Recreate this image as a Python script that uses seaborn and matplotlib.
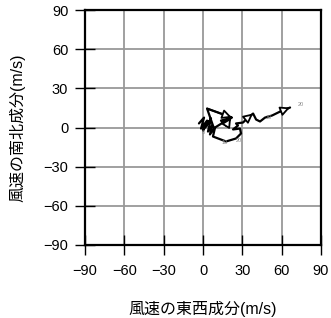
import matplotlib
matplotlib.use("Agg")
import matplotlib.pyplot as plt
import seaborn as sns
import pandas as pd

# hodograph path (u: east-west, v: north-south), m/s
u = [-3.1, 0.8, -1.5, 3.1, 0.0, 4.6, 2.3, 6.1, 3.8, 6.9, 5.3, 8.4, 3.1, 22.1,
     13.7, 17.6, 21.4, 9.2, 7.6, 11.5, 17.6, 25.2, 29.0, 28.2, 22.9, 26.7, 25.2,
     30.5, 34.4, 38.2, 40.5, 43.5, 47.3, 52.7, 58.8, 66.4]
v = [3.1, 7.6, -0.8, 5.3, -2.3, 4.6, 0.8, 6.9, -3.1, 1.5, -5.3, -0.8, 14.5, 7.6,
     5.3, 1.5, 7.6, 0.0, -6.9, -8.4, -10.7, -8.4, -4.6, -0.8, -1.5, 1.5, 3.1,
     3.8, 7.6, 10.7, 6.1, 4.6, 7.6, 9.2, 12.2, 15.3]
# small level labels
lab_text = ["0", "10", "20", "10", "20"]
lab_u = [0.5, 16.5, 27.0, 50.5, 74.5]
lab_v = [-3.5, -11.5, -10.0, 8.0, 18.0]
ticks = [-90, -60, -30, 0, 30, 60, 90]
xlabel = "風速の東西成分(m/s)"
ylabel = "風速の南北成分(m/s)"

sns.set_theme(style="white")
plt.rcParams['font.family'] = ['Liberation Sans', 'Noto Sans CJK JP', 'DejaVu Sans']
plt.rcParams['axes.unicode_minus'] = True

fig = plt.figure(figsize=(3.31, 3.18), dpi=100)
ax = fig.add_axes([85 / 331, (318 - 245) / 318, 236 / 331, 235 / 318])

df = pd.DataFrame({"u": u, "v": v})
sns.lineplot(data=df, x="u", y="v", sort=False, estimator=None, color="black",
             lw=1.6, ax=ax, zorder=3)

# open arrowheads on a few segments
for k in [13, 16, 29, 35]:
    ax.annotate("", xy=(u[k], v[k]), xytext=(u[k - 1], v[k - 1]),
                arrowprops=dict(arrowstyle="-|>", fc="white", ec="black",
                                lw=1.3, mutation_scale=14, shrinkA=0, shrinkB=0),
                zorder=4)

for t, x0, y0 in zip(lab_text, lab_u, lab_v):
    ax.text(x0, y0, t, fontsize=4, color="#888888", ha="center", va="center", zorder=5)

ax.set_xlim(-90, 90)
ax.set_ylim(-90, 90)
ax.set_xticks(ticks)
ax.set_yticks(ticks)
ax.set_xticklabels([str(t).replace("-", "\u2212") for t in ticks])
ax.set_yticklabels([str(t).replace("-", "\u2212") for t in ticks])
ax.grid(True, color="#999999", lw=1.3)
ax.set_axisbelow(True)
for s in ax.spines.values():
    s.set_color("black")
    s.set_linewidth(1.6)
ax.tick_params(direction="inout", length=14, width=1.0, color="black",
               labelsize=10.5, pad=5, bottom=True, left=True, labelcolor="black")
ax.tick_params(axis="x", pad=7)
ax.set_xlabel(xlabel, fontsize=11.5, labelpad=16, color="black")
ax.set_ylabel(ylabel, fontsize=11.5, labelpad=13, color="black")

fig.savefig("out.png", dpi=100)
